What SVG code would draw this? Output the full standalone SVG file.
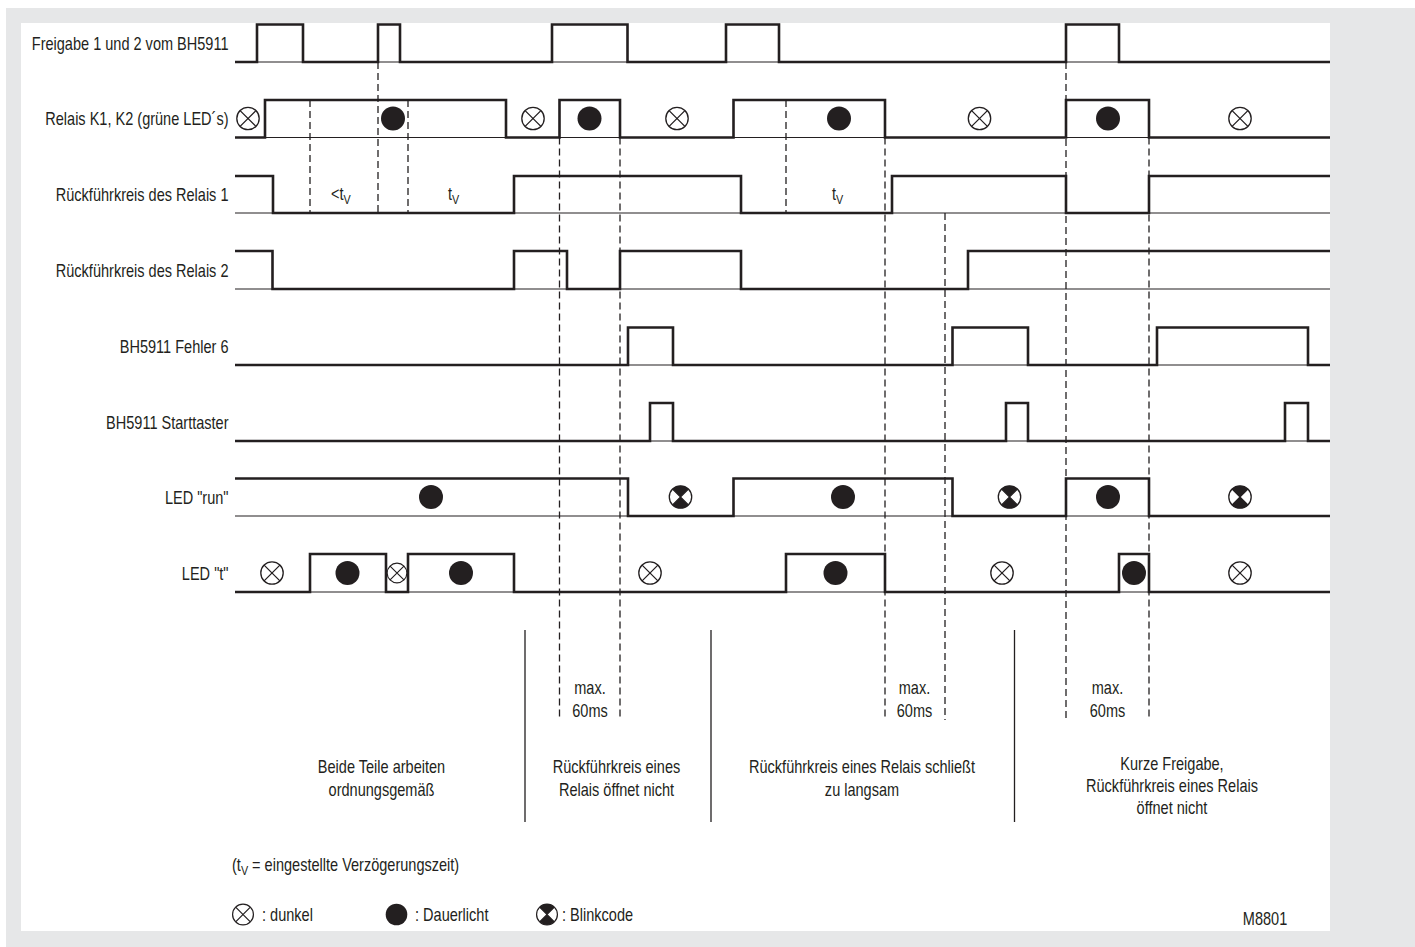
<svg xmlns="http://www.w3.org/2000/svg" width="1415" height="947" viewBox="0 0 1415 947">
<style>
.t{font-family:"Liberation Sans",Arial,sans-serif;font-size:17.5px;fill:#231f20}
.e{text-anchor:end}
.m{text-anchor:middle}
.sig{fill:none;stroke:#231f20;stroke-width:2.6;stroke-linejoin:miter}
.base{fill:none;stroke:#231f20;stroke-width:1.1}
.dash{fill:none;stroke:#231f20;stroke-width:1.3;stroke-dasharray:7 4}
.sep{fill:none;stroke:#231f20;stroke-width:1.3}
</style>
<defs>
<g id="sym-dark"><circle r="11.2" fill="#fff" stroke="#231f20" stroke-width="1.3"/><path d="M-7.9,-7.9 L7.9,7.9 M7.9,-7.9 L-7.9,7.9" stroke="#231f20" stroke-width="1.3"/></g>
<circle id="sym-on" r="12" fill="#231f20"/>
<g id="sym-blink"><circle r="11.2" fill="#fff" stroke="#231f20" stroke-width="1.3"/><path d="M0,0 L-7.9,-7.9 A11.2,11.2 0 0 1 7.9,-7.9 Z M0,0 L7.9,7.9 A11.2,11.2 0 0 1 -7.9,7.9 Z" fill="#231f20"/><path d="M-7.9,-7.9 L7.9,7.9 M7.9,-7.9 L-7.9,7.9" stroke="#231f20" stroke-width="1.3"/></g>
</defs>
<rect x="0" y="0" width="1415" height="947" fill="#fff"/>
<rect x="6" y="8" width="1409" height="939" fill="#e6e7e8"/>
<rect x="21" y="23" width="1309" height="908" fill="#fff"/>

<g id="row-freigabe">
<text class="t e" transform="translate(228.5,49.5) scale(.83,1)">Freigabe 1 und 2 vom BH5911</text>
<path class="base" d="M235,62 H1330"/>
<path class="sig" d="M235,62 H257 V24.5 H303 V62 H378 V24.5 H400 V62 H552 V24.5 H627.5 V62 H726 V24.5 H779 V62 H1066 V24.5 H1119 V62 H1330"/>
</g>

<g id="row-relais">
<text class="t e" transform="translate(228.5,125) scale(.83,1)">Relais K1, K2 (grüne LED´s)</text>
<path class="base" d="M235,137.5 H1330"/>
<path class="sig" d="M235,137.5 H265 V100 H506 V137.5 H559.5 V100 H620 V137.5 H733.5 V100 H885 V137.5 H1066 V100 H1149 V137.5 H1330"/>
<use href="#sym-dark" x="248" y="118.5"/>
<use href="#sym-on" x="393" y="118.5"/>
<use href="#sym-dark" x="533" y="118.5"/>
<use href="#sym-on" x="589.5" y="118.5"/>
<use href="#sym-dark" x="677" y="118.5"/>
<use href="#sym-on" x="839" y="118.5"/>
<use href="#sym-dark" x="979.5" y="118.5"/>
<use href="#sym-on" x="1108" y="118.5"/>
<use href="#sym-dark" x="1240" y="118.5"/>
</g>

<g id="row-rk1">
<text class="t e" transform="translate(228.5,200.5) scale(.83,1)">Rückführkreis des Relais 1</text>
<path class="base" d="M235,213 H1330"/>
<path class="sig" d="M235,176 H273 V213 H514 V176 H741 V213 H892 V176 H1066 V213 H1149 V176 H1330"/>
<text class="t" transform="translate(331,200) scale(.83,1)">&lt;t<tspan font-size="13" dy="4">V</tspan></text>
<text class="t" transform="translate(448,200) scale(.83,1)">t<tspan font-size="13" dy="4">V</tspan></text>
<text class="t" transform="translate(832,200) scale(.83,1)">t<tspan font-size="13" dy="4">V</tspan></text>
</g>

<g id="row-rk2">
<text class="t e" transform="translate(228.5,276.5) scale(.83,1)">Rückführkreis des Relais 2</text>
<path class="base" d="M235,289 H1330"/>
<path class="sig" d="M235,251 H272.5 V289 H514 V251 H567 V289 H620 V251 H741 V289 H968 V251 H1330"/>
</g>

<g id="row-fehler">
<text class="t e" transform="translate(228.5,352.5) scale(.83,1)">BH5911 Fehler 6</text>
<path class="base" d="M235,365 H1330"/>
<path class="sig" d="M235,365 H628 V327.5 H673 V365 H952.5 V327.5 H1028 V365 H1157 V327.5 H1308 V365 H1330"/>
</g>

<g id="row-start">
<text class="t e" transform="translate(228.5,428.5) scale(.83,1)">BH5911 Starttaster</text>
<path class="base" d="M235,441 H1330"/>
<path class="sig" d="M235,441 H650 V403 H673 V441 H1006 V403 H1028 V441 H1285 V403 H1308 V441 H1330"/>
</g>

<g id="row-run">
<text class="t e" transform="translate(228.5,503.5) scale(.83,1)">LED "run"</text>
<path class="base" d="M235,516 H1330"/>
<path class="sig" d="M235,478.5 H628 V516 H733.5 V478.5 H952.5 V516 H1066 V478.5 H1149 V516 H1330"/>
<use href="#sym-on" x="431" y="497"/>
<use href="#sym-blink" x="680.5" y="497"/>
<use href="#sym-on" x="843" y="497"/>
<use href="#sym-blink" x="1009.5" y="497"/>
<use href="#sym-on" x="1108" y="497"/>
<use href="#sym-blink" x="1240" y="497"/>
</g>

<g id="row-t">
<text class="t e" transform="translate(228.5,579.5) scale(.83,1)">LED "t"</text>
<path class="base" d="M235,592 H1330"/>
<path class="sig" d="M235,592 H310 V554 H386 V592 H408 V554 H514 V592 H786 V554 H885 V592 H1119 V554 H1149 V592 H1330"/>
<use href="#sym-dark" x="272" y="573"/>
<use href="#sym-on" x="347.5" y="573"/>
<use href="#sym-dark" transform="translate(397,573) scale(.88)"/>
<use href="#sym-on" x="461" y="573"/>
<use href="#sym-dark" x="650" y="573"/>
<use href="#sym-on" x="835.5" y="573"/>
<use href="#sym-dark" x="1002" y="573"/>
<use href="#sym-on" x="1134" y="573"/>
<use href="#sym-dark" x="1240" y="573"/>
</g>

<g id="connectors">
<path class="dash" d="M310,100 V213 M378,62 V213 M408,100 V213 M786,100 V213"/>
<path class="dash" d="M559.5,137.5 V720 M620,137.5 V720 M885,137.5 V720 M945,213 V720 M1066,62 V720 M1149,137.5 V720"/>
<path class="sep" d="M525,630 V822 M711,630 V822 M1014.5,630 V822"/>
</g>

<g id="annotations">
<text class="t m" transform="translate(590,694) scale(.83,1)">max.</text>
<text class="t m" transform="translate(590,716.5) scale(.83,1)">60ms</text>
<text class="t m" transform="translate(914.5,694) scale(.83,1)">max.</text>
<text class="t m" transform="translate(914.5,716.5) scale(.83,1)">60ms</text>
<text class="t m" transform="translate(1107.5,694) scale(.83,1)">max.</text>
<text class="t m" transform="translate(1107.5,716.5) scale(.83,1)">60ms</text>
<text class="t m" transform="translate(381.5,773) scale(.83,1)">Beide Teile arbeiten</text>
<text class="t m" transform="translate(381.5,795.5) scale(.83,1)">ordnungsgemäß</text>
<text class="t m" transform="translate(616.5,773) scale(.83,1)">Rückführkreis eines</text>
<text class="t m" transform="translate(616.5,795.5) scale(.83,1)">Relais öffnet nicht</text>
<text class="t m" transform="translate(862,773) scale(.83,1)">Rückführkreis eines Relais schließt</text>
<text class="t m" transform="translate(862,795.5) scale(.83,1)">zu langsam</text>
<text class="t m" transform="translate(1172,770) scale(.83,1)">Kurze Freigabe,</text>
<text class="t m" transform="translate(1172,792) scale(.83,1)">Rückführkreis eines Relais</text>
<text class="t m" transform="translate(1172,814) scale(.83,1)">öffnet nicht</text>
</g>

<g id="legend">
<text class="t" transform="translate(232,871) scale(.83,1)">(t<tspan font-size="13" dy="4">V</tspan><tspan dy="-4"> = eingestellte Verzögerungszeit)</tspan></text>
<use href="#sym-dark" transform="translate(243,914.5) scale(.93)"/>
<text class="t" transform="translate(262,920.5) scale(.83,1)">: dunkel</text>
<use href="#sym-on" transform="translate(396.5,914.5) scale(.9)"/>
<text class="t" transform="translate(415,920.5) scale(.83,1)">: Dauerlicht</text>
<use href="#sym-blink" transform="translate(547,914.5) scale(.93)"/>
<text class="t" transform="translate(562,920.5) scale(.83,1)">: Blinkcode</text>
<text class="t m" transform="translate(1265,925) scale(.83,1)" font-size="15">M8801</text>
</g>
</svg>
